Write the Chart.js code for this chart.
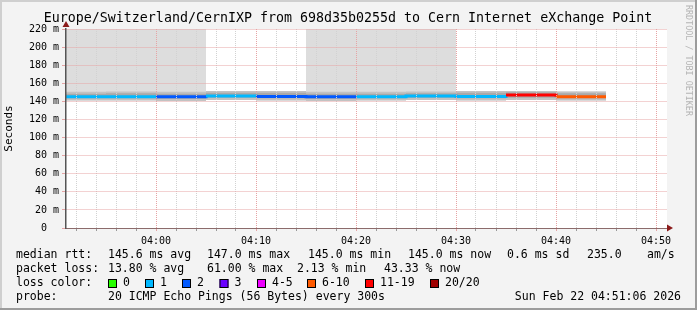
<!DOCTYPE html>
<html>
<head>
<meta charset="utf-8">
<script src="https://cdn.jsdelivr.net/npm/chart.js@4.4.1/dist/chart.umd.min.js"></script>
<style>
  html, body { margin: 0; padding: 0; background: #f3f3f3; }
  canvas { display: block; }
</style>
</head>
<body>
<canvas id="c" width="697" height="310"></canvas>
<script>
// 5 minute samples; the last time only closes the final step
const sampleTimes = ['03:51', '03:55', '04:00', '04:05', '04:10', '04:15', '04:20', '04:25', '04:30', '04:35', '04:40', '04:45'];
const medianRtt = [145, 145, 145, 146, 145.5, 145, 145, 146, 145.5, 147, 145];
const lossPct = [5, 5, 10, 5, 10, 10, 5, 5, 5, 61, 43.33];
// smoke: spread of the 20 pings around the median (ms)
const pingMin = [141, 141, 140.5, 141.5, 141, 140.5, 141, 141.5, 141, 141.5, 141];
const pingLowQ = [143.5, 143.5, 143, 144, 143.5, 143, 143.5, 144, 143.5, 144, 143.5];
const pingHighQ = [148.5, 149, 148.5, 149.5, 149.5, 148.5, 148.5, 149, 149.5, 150, 149];
const pingHigh = [150.5, 151, 150.5, 151.5, 151.5, 150.5, 150.5, 151, 151.5, 151.5, 151];
const pingMax = [260, 260, 260, 151.5, 151.5, 260, 260, 260, 151.5, 151.5, 151];

const xTickLabels = ['04:00', '04:10', '04:20', '04:30', '04:40', '04:50'];
const lossBins = ['0', '1', '2', '3', '4-5', '6-10', '11-19', '20/20'];
const lossBinMax = [0, 1, 2, 3, 5, 10, 19, 20];
const lossColors = ['#26ff00', '#00b8ff', '#0059ff', '#6a00ff', '#ee00ff', '#ff5a00', '#ff0000', '#a00000'];

const MONO = '"DejaVu Sans Mono", monospace';
const toMin = s => { const [h, m] = s.split(':').map(Number); return h * 60 + m - 240; };

// each sample holds its value until the next sample time
function steps(values) {
  const pts = [];
  values.forEach((v, i) => {
    pts.push({ x: toMin(sampleTimes[i]), y: v });
    pts.push({ x: toMin(sampleTimes[i + 1]), y: v });
  });
  return pts;
}

function lossColor(pct) {
  const n = Math.round(pct * 20 / 100);
  const i = lossBinMax.findIndex(m => n <= m);
  return lossColors[i];
}

const hidden = { pointRadius: 0, borderWidth: 0, borderColor: 'rgba(0,0,0,0)' };

const gridMinutes = [];
for (let m = -8; m <= 50; m += 2) gridMinutes.push(m);

const minorGrid = '#d2d2d2';
const majorGrid = '#e6a4a4';

const decor = {
  id: 'decor',
  beforeDraw(chart) {
    const { ctx, chartArea: a } = chart;
    ctx.save();
    ctx.fillStyle = '#f3f3f3';
    ctx.fillRect(0, 0, 697, 310);
    ctx.fillStyle = '#ffffff';
    ctx.fillRect(a.left, a.top, a.right - a.left, a.bottom - a.top);
    ctx.restore();
  },
  afterDraw(chart) {
    const { ctx, chartArea: a } = chart;
    ctx.save();
    // frame
    ctx.fillStyle = '#cfcfcf';
    ctx.fillRect(0, 0, 697, 2);
    ctx.fillRect(0, 0, 2, 310);
    ctx.fillStyle = '#9c9c9c';
    ctx.fillRect(0, 308, 697, 2);
    ctx.fillRect(695, 0, 2, 310);

    // axis arrows
    ctx.fillStyle = '#8b1a1a';
    ctx.beginPath();
    ctx.moveTo(a.left - 3.5, a.top - 2);
    ctx.lineTo(a.left + 3.5, a.top - 2);
    ctx.lineTo(a.left, a.top - 8);
    ctx.closePath();
    ctx.fill();
    ctx.beginPath();
    ctx.moveTo(a.right, a.bottom - 3.5);
    ctx.lineTo(a.right, a.bottom + 3.5);
    ctx.lineTo(a.right + 6, a.bottom);
    ctx.closePath();
    ctx.fill();

    // title
    ctx.fillStyle = '#000';
    ctx.font = '13.3px ' + MONO;
    ctx.textAlign = 'center';
    ctx.textBaseline = 'middle';
    ctx.fillText('Europe/Switzerland/CernIXP from 698d35b0255d to Cern Internet eXchange Point', 348, 19);

    // watermark
    ctx.save();
    ctx.translate(688, 5);
    ctx.rotate(Math.PI / 2);
    ctx.fillStyle = '#b4b4b4';
    ctx.font = '8.4px ' + MONO;
    ctx.textAlign = 'left';
    ctx.fillText('RRDTOOL / TOBI OETIKER', 0, 0);
    ctx.restore();

    // legend
    ctx.font = '11.5px ' + MONO;
    ctx.textAlign = 'left';
    ctx.fillStyle = '#000';
    const y1 = 255.5, y2 = 269.5, y3 = 283.5, y4 = 297.5;
    const row1 = [['median rtt:', 16], ['145.6 ms avg', 108], ['147.0 ms max', 207], ['145.0 ms min', 308],
      ['145.0 ms now', 408], ['0.6 ms sd', 507], ['235.0', 587], ['am/s', 647]];
    const row2 = [['packet loss:', 16], ['13.80 % avg', 108], ['61.00 % max', 207], ['2.13 % min', 297], ['43.33 % now', 384]];
    row1.forEach(([t, x]) => ctx.fillText(t, x, y1));
    row2.forEach(([t, x]) => ctx.fillText(t, x, y2));
    ctx.fillText('loss color:', 16, y3);
    const boxX = [108, 145, 182, 219.5, 257, 307, 365, 430];
    lossBins.forEach((lab, i) => {
      ctx.fillStyle = lossColors[i];
      ctx.fillRect(boxX[i], y3 - 4.5, 9, 9);
      ctx.strokeStyle = '#000';
      ctx.lineWidth = 1;
      ctx.strokeRect(boxX[i] + 0.5, y3 - 4, 8, 8);
      ctx.fillStyle = '#000';
      ctx.fillText(lab, boxX[i] + 15, y3);
    });
    ctx.fillText('probe:', 16, y4);
    ctx.fillText('20 ICMP Echo Pings (56 Bytes) every 300s', 108, y4);
    ctx.textAlign = 'right';
    ctx.fillText('Sun Feb 22 04:51:06 2026', 681, y4);
    ctx.restore();
  }
};

new Chart(document.getElementById('c'), {
  type: 'line',
  data: {
    datasets: [
      {
        label: 'median rtt',
        data: steps(medianRtt),
        pointRadius: 0,
        borderWidth: 3,
        borderCapStyle: 'butt',
        borderColor: lossColor(lossPct[0]),
        segment: { borderColor: c => lossColor(lossPct[Math.floor(c.p0DataIndex / 2)]) },
        order: 0
      },
      { ...hidden, label: 'inner', data: steps(pingHighQ), fill: 2, backgroundColor: '#a9a9a9', order: 1 },
      { ...hidden, label: 'innerLow', data: steps(pingLowQ), order: 5 },
      { ...hidden, label: 'outer', data: steps(pingHigh), fill: 4, backgroundColor: '#c2c2c2', order: 2 },
      { ...hidden, label: 'outerLow', data: steps(pingMin), order: 5 },
      { ...hidden, label: 'max', data: steps(pingMax), fill: 4, backgroundColor: '#dddddd', order: 3 }
    ]
  },
  options: {
    responsive: false,
    animation: false,
    devicePixelRatio: 1,
    layout: { padding: { left: 0, right: 30, top: 29, bottom: 0 } },
    plugins: { legend: { display: false }, tooltip: { enabled: false } },
    scales: {
      x: {
        type: 'linear',
        min: -9,
        max: 51.1,
        afterFit: s => { s.height = 82; },
        afterBuildTicks: s => { s.ticks = gridMinutes.map(v => ({ value: v })); },
        ticks: {
          z: 1,
          autoSkip: false,
          maxRotation: 0,
          padding: 4,
          color: '#000',
          font: { family: MONO, size: 10 },
          callback: v => (v % 10 === 0 ? xTickLabels[v / 10] : '')
        },
        grid: {
          z: 1,
          color: c => (c.tick && c.tick.value % 10 === 0 ? majorGrid : minorGrid),
          tickColor: c => (c.tick && c.tick.value % 10 === 0 ? majorGrid : '#999'),
          tickLength: 3
        },
        border: { z: 1, display: true, color: '#333', width: 1, dash: [1, 1] }
      },
      y: {
        min: 0,
        max: 220,
        afterFit: s => { s.width = 66; },
        ticks: {
          z: 1,
          stepSize: 10,
          padding: 3,
          color: '#000',
          font: { family: MONO, size: 10 },
          callback: v => (v % 20 !== 0 ? '' : v === 0 ? '0  ' : v + ' m')
        },
        grid: {
          z: 1,
          color: c => (c.tick && c.tick.value % 20 === 0 ? majorGrid : minorGrid),
          tickColor: c => (c.tick && c.tick.value % 20 === 0 ? majorGrid : 'rgba(0,0,0,0)'),
          tickLength: 4
        },
        border: { z: 1, display: true, color: '#555', width: 1.5, dash: [1, 1] },
        title: {
          display: true,
          text: 'Seconds',
          color: '#000',
          font: { family: MONO, size: 11 },
          padding: { top: 3, bottom: 0 }
        }
      }
    }
  },
  plugins: [decor]
});
</script>
</body>
</html>
